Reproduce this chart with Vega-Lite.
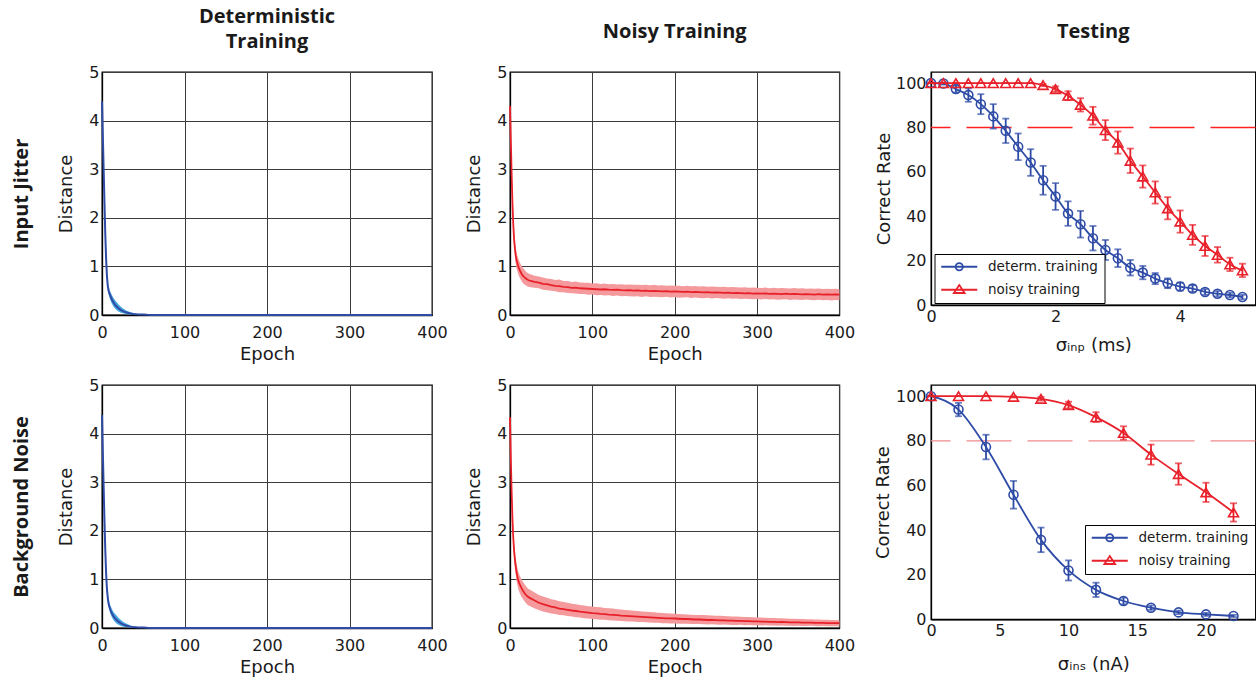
{
"$schema": "https://vega.github.io/schema/vega-lite/v6.json",
"autosize": {"type": "pad"},
"padding": {"left": 10, "top": 6, "right": 0, "bottom": 0},
"background": "white",
"config": {
  "view": {"stroke": "#000", "strokeWidth": 1.3},
  "axis": {"labelFont": "DejaVu Sans", "labelFontSize": 16, "labelColor": "#1a1a1a", "titleFont": "DejaVu Sans", "titleFontSize": 18, "titleFontWeight": "normal", "titleColor": "#1a1a1a", "domainColor": "#000", "domainWidth": 1.3, "ticks": false, "labelFlush": false, "labelOverlap": false, "gridColor": "#3c3c3c", "gridOpacity": 1, "gridWidth": 1, "grid": false},
  "axisX": {"labelPadding": 9, "titlePadding": 5},
  "axisY": {"labelPadding": 3, "titlePadding": 13},
  "title": {"font": "Open Sans", "fontSize": 20, "fontWeight": "bold", "color": "#1a1a1a", "anchor": "middle", "frame": "group"}
},
"datasets": {
"train": [
{"p":"JD","e":0,"d":4.4,"lo":4.4,"hi":4.4},{"p":"JD","e":1,"d":3.7,"lo":3.68,"hi":3.72},{"p":"JD","e":2,"d":3.0,"lo":2.97,"hi":3.03},{"p":"JD","e":3,"d":2.3,"lo":2.26,"hi":2.34},{"p":"JD","e":4,"d":1.65,"lo":1.6,"hi":1.7},{"p":"JD","e":5,"d":1.15,"lo":1.1,"hi":1.2},{"p":"JD","e":6,"d":0.8,"lo":0.74,"hi":0.86},{"p":"JD","e":7,"d":0.6,"lo":0.53,"hi":0.67},{"p":"JD","e":8,"d":0.5,"lo":0.42,"hi":0.58},{"p":"JD","e":10,"d":0.4,"lo":0.31,"hi":0.48},{"p":"JD","e":12,"d":0.32,"lo":0.23,"hi":0.41},{"p":"JD","e":14,"d":0.26,"lo":0.17,"hi":0.35},{"p":"JD","e":16,"d":0.21,"lo":0.13,"hi":0.3},{"p":"JD","e":18,"d":0.17,"lo":0.1,"hi":0.26},{"p":"JD","e":20,"d":0.14,"lo":0.07,"hi":0.22},{"p":"JD","e":23,"d":0.1,"lo":0.045,"hi":0.17},{"p":"JD","e":26,"d":0.075,"lo":0.03,"hi":0.13},{"p":"JD","e":30,"d":0.05,"lo":0.015,"hi":0.09},{"p":"JD","e":34,"d":0.03,"lo":0.008,"hi":0.06},{"p":"JD","e":38,"d":0.02,"lo":0.004,"hi":0.04},{"p":"JD","e":42,"d":0.015,"lo":0.002,"hi":0.028},{"p":"JD","e":46,"d":0.012,"lo":0.001,"hi":0.02},{"p":"JD","e":50,"d":0.01,"lo":0,"hi":0.015},{"p":"JD","e":55,"d":0.004,"lo":0,"hi":0.006},{"p":"JD","e":60,"d":0.002,"lo":0,"hi":0.003},{"p":"JD","e":100,"d":0.001,"lo":0,"hi":0.001},{"p":"JD","e":200,"d":0.001,"lo":0,"hi":0.001},{"p":"JD","e":300,"d":0.001,"lo":0,"hi":0.001},{"p":"JD","e":400,"d":0.001,"lo":0,"hi":0.001},
{"p":"BD","e":0,"d":4.38,"lo":4.38,"hi":4.38},{"p":"BD","e":1,"d":3.62,"lo":3.6,"hi":3.64},{"p":"BD","e":2,"d":2.9,"lo":2.87,"hi":2.93},{"p":"BD","e":3,"d":2.2,"lo":2.16,"hi":2.24},{"p":"BD","e":4,"d":1.6,"lo":1.55,"hi":1.65},{"p":"BD","e":5,"d":1.12,"lo":1.07,"hi":1.18},{"p":"BD","e":6,"d":0.8,"lo":0.74,"hi":0.86},{"p":"BD","e":7,"d":0.62,"lo":0.55,"hi":0.69},{"p":"BD","e":8,"d":0.5,"lo":0.42,"hi":0.58},{"p":"BD","e":10,"d":0.38,"lo":0.3,"hi":0.47},{"p":"BD","e":12,"d":0.3,"lo":0.22,"hi":0.39},{"p":"BD","e":14,"d":0.24,"lo":0.16,"hi":0.33},{"p":"BD","e":16,"d":0.2,"lo":0.12,"hi":0.29},{"p":"BD","e":18,"d":0.16,"lo":0.09,"hi":0.25},{"p":"BD","e":20,"d":0.13,"lo":0.065,"hi":0.21},{"p":"BD","e":23,"d":0.095,"lo":0.04,"hi":0.165},{"p":"BD","e":26,"d":0.07,"lo":0.028,"hi":0.125},{"p":"BD","e":30,"d":0.045,"lo":0.014,"hi":0.085},{"p":"BD","e":34,"d":0.028,"lo":0.007,"hi":0.055},{"p":"BD","e":38,"d":0.018,"lo":0.004,"hi":0.038},{"p":"BD","e":42,"d":0.013,"lo":0.002,"hi":0.026},{"p":"BD","e":46,"d":0.01,"lo":0.001,"hi":0.018},{"p":"BD","e":50,"d":0.008,"lo":0,"hi":0.013},{"p":"BD","e":55,"d":0.004,"lo":0,"hi":0.006},{"p":"BD","e":60,"d":0.002,"lo":0,"hi":0.003},{"p":"BD","e":100,"d":0.001,"lo":0,"hi":0.001},{"p":"BD","e":200,"d":0.001,"lo":0,"hi":0.001},{"p":"BD","e":300,"d":0.001,"lo":0,"hi":0.001},{"p":"BD","e":400,"d":0.001,"lo":0,"hi":0.001},
{"p":"JN","e":0,"d":4.3,"lo":4.3,"hi":4.3},{"p":"JN","e":1,"d":3.6,"lo":3.55,"hi":3.65},{"p":"JN","e":2,"d":2.9,"lo":2.82,"hi":2.98},{"p":"JN","e":3,"d":2.3,"lo":2.2,"hi":2.4},{"p":"JN","e":4,"d":1.85,"lo":1.72,"hi":1.98},{"p":"JN","e":5,"d":1.55,"lo":1.4,"hi":1.7},{"p":"JN","e":6,"d":1.36,"lo":1.2,"hi":1.52},{"p":"JN","e":7,"d":1.22,"lo":1.05,"hi":1.38},{"p":"JN","e":8,"d":1.12,"lo":0.95,"hi":1.28},{"p":"JN","e":10,"d":1.0,"lo":0.84,"hi":1.16},{"p":"JN","e":12,"d":0.92,"lo":0.76,"hi":1.08},{"p":"JN","e":14,"d":0.85,"lo":0.7,"hi":1.01},{"p":"JN","e":16,"d":0.8,"lo":0.65,"hi":0.96},{"p":"JN","e":18,"d":0.77,"lo":0.62,"hi":0.92},{"p":"JN","e":20,"d":0.74,"lo":0.6,"hi":0.88},{"p":"JN","e":22,"d":0.72,"lo":0.58,"hi":0.86},{"p":"JN","e":25,"d":0.7,"lo":0.57,"hi":0.84},
{"p":"JN","e":30,"d":0.68,"lo":0.56,"hi":0.81},{"p":"JN","e":35,"d":0.665,"lo":0.55,"hi":0.79},{"p":"JN","e":40,"d":0.64,"lo":0.52,"hi":0.77},{"p":"JN","e":45,"d":0.635,"lo":0.51,"hi":0.75},{"p":"JN","e":50,"d":0.615,"lo":0.5,"hi":0.74},{"p":"JN","e":55,"d":0.6,"lo":0.49,"hi":0.72},{"p":"JN","e":60,"d":0.595,"lo":0.47,"hi":0.73},{"p":"JN","e":65,"d":0.58,"lo":0.47,"hi":0.7},{"p":"JN","e":70,"d":0.575,"lo":0.455,"hi":0.7},{"p":"JN","e":75,"d":0.56,"lo":0.45,"hi":0.68},{"p":"JN","e":80,"d":0.565,"lo":0.44,"hi":0.69},{"p":"JN","e":85,"d":0.55,"lo":0.43,"hi":0.67},{"p":"JN","e":90,"d":0.545,"lo":0.43,"hi":0.665},{"p":"JN","e":95,"d":0.54,"lo":0.415,"hi":0.665},{"p":"JN","e":100,"d":0.535,"lo":0.42,"hi":0.65},{"p":"JN","e":105,"d":0.53,"lo":0.405,"hi":0.655},{"p":"JN","e":110,"d":0.525,"lo":0.41,"hi":0.64},{"p":"JN","e":115,"d":0.53,"lo":0.4,"hi":0.65},{"p":"JN","e":120,"d":0.52,"lo":0.405,"hi":0.635},{"p":"JN","e":125,"d":0.515,"lo":0.39,"hi":0.64},{"p":"JN","e":130,"d":0.52,"lo":0.4,"hi":0.63},{"p":"JN","e":135,"d":0.51,"lo":0.385,"hi":0.635},{"p":"JN","e":140,"d":0.505,"lo":0.39,"hi":0.62},{"p":"JN","e":145,"d":0.51,"lo":0.385,"hi":0.63},{"p":"JN","e":150,"d":0.5,"lo":0.38,"hi":0.62},{"p":"JN","e":155,"d":0.505,"lo":0.385,"hi":0.625},{"p":"JN","e":160,"d":0.495,"lo":0.37,"hi":0.615},{"p":"JN","e":165,"d":0.5,"lo":0.385,"hi":0.62},{"p":"JN","e":170,"d":0.49,"lo":0.37,"hi":0.61},{"p":"JN","e":175,"d":0.495,"lo":0.375,"hi":0.62},{"p":"JN","e":180,"d":0.49,"lo":0.37,"hi":0.605},{"p":"JN","e":185,"d":0.485,"lo":0.365,"hi":0.61},{"p":"JN","e":190,"d":0.49,"lo":0.375,"hi":0.6},{"p":"JN","e":195,"d":0.48,"lo":0.36,"hi":0.605},{"p":"JN","e":200,"d":0.485,"lo":0.37,"hi":0.6},{"p":"JN","e":205,"d":0.48,"lo":0.355,"hi":0.6},{"p":"JN","e":210,"d":0.475,"lo":0.36,"hi":0.59},{"p":"JN","e":215,"d":0.48,"lo":0.365,"hi":0.6},{"p":"JN","e":220,"d":0.47,"lo":0.35,"hi":0.59},{"p":"JN","e":225,"d":0.475,"lo":0.36,"hi":0.595},{"p":"JN","e":230,"d":0.47,"lo":0.35,"hi":0.585},{"p":"JN","e":235,"d":0.465,"lo":0.345,"hi":0.59},{"p":"JN","e":240,"d":0.47,"lo":0.355,"hi":0.58},{"p":"JN","e":245,"d":0.46,"lo":0.34,"hi":0.585},{"p":"JN","e":250,"d":0.465,"lo":0.35,"hi":0.58},{"p":"JN","e":255,"d":0.46,"lo":0.345,"hi":0.575},{"p":"JN","e":260,"d":0.455,"lo":0.335,"hi":0.58},{"p":"JN","e":265,"d":0.46,"lo":0.345,"hi":0.57},{"p":"JN","e":270,"d":0.45,"lo":0.335,"hi":0.575},{"p":"JN","e":275,"d":0.455,"lo":0.34,"hi":0.57},{"p":"JN","e":280,"d":0.45,"lo":0.33,"hi":0.565},{"p":"JN","e":285,"d":0.445,"lo":0.335,"hi":0.57},{"p":"JN","e":290,"d":0.45,"lo":0.33,"hi":0.56},{"p":"JN","e":295,"d":0.44,"lo":0.325,"hi":0.565},{"p":"JN","e":300,"d":0.445,"lo":0.33,"hi":0.56},{"p":"JN","e":305,"d":0.44,"lo":0.32,"hi":0.555},{"p":"JN","e":310,"d":0.445,"lo":0.33,"hi":0.565},{"p":"JN","e":315,"d":0.435,"lo":0.32,"hi":0.55},{"p":"JN","e":320,"d":0.44,"lo":0.325,"hi":0.56},{"p":"JN","e":325,"d":0.435,"lo":0.315,"hi":0.55},{"p":"JN","e":330,"d":0.43,"lo":0.32,"hi":0.555},{"p":"JN","e":335,"d":0.44,"lo":0.325,"hi":0.55},{"p":"JN","e":340,"d":0.43,"lo":0.31,"hi":0.545},{"p":"JN","e":345,"d":0.435,"lo":0.32,"hi":0.555},{"p":"JN","e":350,"d":0.43,"lo":0.315,"hi":0.545},{"p":"JN","e":355,"d":0.425,"lo":0.31,"hi":0.55},{"p":"JN","e":360,"d":0.43,"lo":0.32,"hi":0.54},{"p":"JN","e":365,"d":0.425,"lo":0.31,"hi":0.545},{"p":"JN","e":370,"d":0.42,"lo":0.305,"hi":0.54},{"p":"JN","e":375,"d":0.43,"lo":0.315,"hi":0.545},{"p":"JN","e":380,"d":0.42,"lo":0.305,"hi":0.535},{"p":"JN","e":385,"d":0.425,"lo":0.31,"hi":0.54},{"p":"JN","e":390,"d":0.42,"lo":0.3,"hi":0.535},{"p":"JN","e":395,"d":0.425,"lo":0.31,"hi":0.54},{"p":"JN","e":400,"d":0.42,"lo":0.305,"hi":0.53},
{"p":"BN","e":0,"d":4.34,"lo":4.34,"hi":4.34},{"p":"BN","e":1,"d":3.5,"lo":3.44,"hi":3.56},{"p":"BN","e":2,"d":2.8,"lo":2.7,"hi":2.9},{"p":"BN","e":3,"d":2.24,"lo":2.12,"hi":2.36},{"p":"BN","e":4,"d":1.85,"lo":1.7,"hi":2.0},{"p":"BN","e":5,"d":1.58,"lo":1.42,"hi":1.75},{"p":"BN","e":6,"d":1.4,"lo":1.22,"hi":1.58},{"p":"BN","e":7,"d":1.26,"lo":1.08,"hi":1.44},{"p":"BN","e":8,"d":1.14,"lo":0.96,"hi":1.32},{"p":"BN","e":10,"d":0.98,"lo":0.8,"hi":1.16},{"p":"BN","e":12,"d":0.89,"lo":0.71,"hi":1.07},{"p":"BN","e":14,"d":0.82,"lo":0.64,"hi":1.0},{"p":"BN","e":16,"d":0.76,"lo":0.59,"hi":0.94},{"p":"BN","e":18,"d":0.71,"lo":0.54,"hi":0.89},{"p":"BN","e":20,"d":0.67,"lo":0.5,"hi":0.85},{"p":"BN","e":22,"d":0.64,"lo":0.47,"hi":0.81},{"p":"BN","e":25,"d":0.61,"lo":0.44,"hi":0.78},
{"p":"BN","e":30,"d":0.565,"lo":0.4,"hi":0.73},{"p":"BN","e":35,"d":0.52,"lo":0.37,"hi":0.68},{"p":"BN","e":40,"d":0.49,"lo":0.34,"hi":0.65},{"p":"BN","e":45,"d":0.465,"lo":0.32,"hi":0.62},{"p":"BN","e":50,"d":0.44,"lo":0.3,"hi":0.59},{"p":"BN","e":55,"d":0.425,"lo":0.29,"hi":0.575},{"p":"BN","e":60,"d":0.4,"lo":0.27,"hi":0.55},{"p":"BN","e":65,"d":0.39,"lo":0.26,"hi":0.535},{"p":"BN","e":70,"d":0.375,"lo":0.245,"hi":0.52},{"p":"BN","e":75,"d":0.36,"lo":0.235,"hi":0.5},{"p":"BN","e":80,"d":0.35,"lo":0.22,"hi":0.49},{"p":"BN","e":85,"d":0.335,"lo":0.215,"hi":0.475},{"p":"BN","e":90,"d":0.325,"lo":0.2,"hi":0.465},{"p":"BN","e":95,"d":0.315,"lo":0.195,"hi":0.45},{"p":"BN","e":100,"d":0.305,"lo":0.185,"hi":0.44},{"p":"BN","e":105,"d":0.3,"lo":0.18,"hi":0.43},{"p":"BN","e":110,"d":0.29,"lo":0.17,"hi":0.425},{"p":"BN","e":115,"d":0.285,"lo":0.17,"hi":0.41},{"p":"BN","e":120,"d":0.275,"lo":0.16,"hi":0.405},{"p":"BN","e":125,"d":0.27,"lo":0.155,"hi":0.4},{"p":"BN","e":130,"d":0.265,"lo":0.15,"hi":0.385},{"p":"BN","e":135,"d":0.255,"lo":0.145,"hi":0.38},{"p":"BN","e":140,"d":0.25,"lo":0.14,"hi":0.37},{"p":"BN","e":145,"d":0.245,"lo":0.135,"hi":0.365},{"p":"BN","e":150,"d":0.24,"lo":0.135,"hi":0.355},{"p":"BN","e":155,"d":0.235,"lo":0.125,"hi":0.35},{"p":"BN","e":160,"d":0.23,"lo":0.125,"hi":0.34},{"p":"BN","e":165,"d":0.225,"lo":0.12,"hi":0.335},{"p":"BN","e":170,"d":0.22,"lo":0.115,"hi":0.33},{"p":"BN","e":175,"d":0.215,"lo":0.11,"hi":0.325},{"p":"BN","e":180,"d":0.21,"lo":0.11,"hi":0.315},{"p":"BN","e":185,"d":0.205,"lo":0.1,"hi":0.31},{"p":"BN","e":190,"d":0.2,"lo":0.1,"hi":0.305},{"p":"BN","e":195,"d":0.2,"lo":0.095,"hi":0.3},{"p":"BN","e":200,"d":0.195,"lo":0.095,"hi":0.295},{"p":"BN","e":205,"d":0.19,"lo":0.09,"hi":0.29},{"p":"BN","e":210,"d":0.185,"lo":0.085,"hi":0.285},{"p":"BN","e":215,"d":0.185,"lo":0.09,"hi":0.28},{"p":"BN","e":220,"d":0.18,"lo":0.08,"hi":0.275},{"p":"BN","e":225,"d":0.175,"lo":0.08,"hi":0.27},{"p":"BN","e":230,"d":0.175,"lo":0.08,"hi":0.265},{"p":"BN","e":235,"d":0.17,"lo":0.075,"hi":0.265},{"p":"BN","e":240,"d":0.165,"lo":0.07,"hi":0.26},{"p":"BN","e":245,"d":0.165,"lo":0.075,"hi":0.255},{"p":"BN","e":250,"d":0.16,"lo":0.07,"hi":0.25},{"p":"BN","e":255,"d":0.155,"lo":0.065,"hi":0.25},{"p":"BN","e":260,"d":0.155,"lo":0.07,"hi":0.245},{"p":"BN","e":265,"d":0.15,"lo":0.065,"hi":0.24},{"p":"BN","e":270,"d":0.15,"lo":0.06,"hi":0.235},{"p":"BN","e":275,"d":0.145,"lo":0.06,"hi":0.235},{"p":"BN","e":280,"d":0.145,"lo":0.065,"hi":0.23},{"p":"BN","e":285,"d":0.14,"lo":0.055,"hi":0.225},{"p":"BN","e":290,"d":0.14,"lo":0.06,"hi":0.225},{"p":"BN","e":295,"d":0.135,"lo":0.055,"hi":0.22},{"p":"BN","e":300,"d":0.135,"lo":0.055,"hi":0.215},{"p":"BN","e":305,"d":0.13,"lo":0.05,"hi":0.215},{"p":"BN","e":310,"d":0.13,"lo":0.055,"hi":0.21},{"p":"BN","e":315,"d":0.125,"lo":0.05,"hi":0.205},{"p":"BN","e":320,"d":0.125,"lo":0.05,"hi":0.205},{"p":"BN","e":325,"d":0.12,"lo":0.045,"hi":0.2},{"p":"BN","e":330,"d":0.125,"lo":0.05,"hi":0.2},{"p":"BN","e":335,"d":0.12,"lo":0.045,"hi":0.195},{"p":"BN","e":340,"d":0.115,"lo":0.045,"hi":0.19},{"p":"BN","e":345,"d":0.115,"lo":0.04,"hi":0.19},{"p":"BN","e":350,"d":0.115,"lo":0.045,"hi":0.185},{"p":"BN","e":355,"d":0.11,"lo":0.04,"hi":0.185},{"p":"BN","e":360,"d":0.11,"lo":0.04,"hi":0.18},{"p":"BN","e":365,"d":0.11,"lo":0.045,"hi":0.18},{"p":"BN","e":370,"d":0.105,"lo":0.04,"hi":0.175},{"p":"BN","e":375,"d":0.105,"lo":0.035,"hi":0.175},{"p":"BN","e":380,"d":0.105,"lo":0.04,"hi":0.17},{"p":"BN","e":385,"d":0.1,"lo":0.035,"hi":0.17},{"p":"BN","e":390,"d":0.1,"lo":0.035,"hi":0.165},{"p":"BN","e":395,"d":0.1,"lo":0.035,"hi":0.165},{"p":"BN","e":400,"d":0.1,"lo":0.035,"hi":0.16}
],
"test": [
{"p":"J","series":"determ. training","s":0,"rate":100,"err":0},{"p":"J","series":"determ. training","s":0.2,"rate":99.8,"err":0.5},{"p":"J","series":"determ. training","s":0.4,"rate":97.3,"err":1.5},{"p":"J","series":"determ. training","s":0.6,"rate":94.6,"err":3},{"p":"J","series":"determ. training","s":0.8,"rate":90.5,"err":4.5},{"p":"J","series":"determ. training","s":1.0,"rate":85,"err":5.5},{"p":"J","series":"determ. training","s":1.2,"rate":78.5,"err":5.5},{"p":"J","series":"determ. training","s":1.4,"rate":71.3,"err":6},{"p":"J","series":"determ. training","s":1.6,"rate":64.2,"err":6},{"p":"J","series":"determ. training","s":1.8,"rate":56.2,"err":6.5},{"p":"J","series":"determ. training","s":2.0,"rate":48.9,"err":6},{"p":"J","series":"determ. training","s":2.2,"rate":41.2,"err":5.5},{"p":"J","series":"determ. training","s":2.4,"rate":36.4,"err":6},{"p":"J","series":"determ. training","s":2.6,"rate":30.1,"err":5.5},{"p":"J","series":"determ. training","s":2.8,"rate":24.8,"err":4.5},{"p":"J","series":"determ. training","s":3.0,"rate":21.1,"err":4},{"p":"J","series":"determ. training","s":3.2,"rate":16.8,"err":3.5},{"p":"J","series":"determ. training","s":3.4,"rate":14.6,"err":3},{"p":"J","series":"determ. training","s":3.6,"rate":11.9,"err":2.5},{"p":"J","series":"determ. training","s":3.8,"rate":9.8,"err":2.2},{"p":"J","series":"determ. training","s":4.0,"rate":8.3,"err":1.8},{"p":"J","series":"determ. training","s":4.2,"rate":7.4,"err":1.5},{"p":"J","series":"determ. training","s":4.4,"rate":5.9,"err":1.3},{"p":"J","series":"determ. training","s":4.6,"rate":5.1,"err":1.2},{"p":"J","series":"determ. training","s":4.8,"rate":4.5,"err":1},{"p":"J","series":"determ. training","s":5.0,"rate":3.6,"err":1},
{"p":"J","series":"noisy training","s":0,"rate":100,"err":0},{"p":"J","series":"noisy training","s":0.2,"rate":100,"err":0},{"p":"J","series":"noisy training","s":0.4,"rate":100,"err":0},{"p":"J","series":"noisy training","s":0.6,"rate":100,"err":0},{"p":"J","series":"noisy training","s":0.8,"rate":100,"err":0},{"p":"J","series":"noisy training","s":1.0,"rate":100,"err":0},{"p":"J","series":"noisy training","s":1.2,"rate":100,"err":0},{"p":"J","series":"noisy training","s":1.4,"rate":100,"err":0},{"p":"J","series":"noisy training","s":1.6,"rate":100,"err":0},{"p":"J","series":"noisy training","s":1.8,"rate":99.1,"err":0.5},{"p":"J","series":"noisy training","s":2.0,"rate":97.3,"err":1.2},{"p":"J","series":"noisy training","s":2.2,"rate":94.3,"err":2},{"p":"J","series":"noisy training","s":2.4,"rate":90.2,"err":3},{"p":"J","series":"noisy training","s":2.6,"rate":85.3,"err":4},{"p":"J","series":"noisy training","s":2.8,"rate":78.8,"err":4.5},{"p":"J","series":"noisy training","s":3.0,"rate":73.2,"err":5},{"p":"J","series":"noisy training","s":3.2,"rate":65,"err":5.5},{"p":"J","series":"noisy training","s":3.4,"rate":57.9,"err":5},{"p":"J","series":"noisy training","s":3.6,"rate":50.7,"err":5},{"p":"J","series":"noisy training","s":3.8,"rate":43.6,"err":5},{"p":"J","series":"noisy training","s":4.0,"rate":37.6,"err":5},{"p":"J","series":"noisy training","s":4.2,"rate":31.6,"err":4.5},{"p":"J","series":"noisy training","s":4.4,"rate":26.6,"err":4.5},{"p":"J","series":"noisy training","s":4.6,"rate":22.6,"err":3.5},{"p":"J","series":"noisy training","s":4.8,"rate":18.3,"err":3},{"p":"J","series":"noisy training","s":5.0,"rate":15.6,"err":3},
{"p":"B","series":"determ. training","s":0,"rate":100,"err":0},{"p":"B","series":"determ. training","s":2,"rate":94,"err":3},{"p":"B","series":"determ. training","s":4,"rate":77.2,"err":5.5},{"p":"B","series":"determ. training","s":6,"rate":55.8,"err":6.2},{"p":"B","series":"determ. training","s":8,"rate":35.6,"err":5.5},{"p":"B","series":"determ. training","s":10,"rate":21.9,"err":4.5},{"p":"B","series":"determ. training","s":12,"rate":13.2,"err":3.2},{"p":"B","series":"determ. training","s":14,"rate":8.2,"err":1.5},{"p":"B","series":"determ. training","s":16,"rate":5.2,"err":1},{"p":"B","series":"determ. training","s":18,"rate":3.1,"err":0.8},{"p":"B","series":"determ. training","s":20,"rate":2.2,"err":0.7},{"p":"B","series":"determ. training","s":22,"rate":1.5,"err":0.5},
{"p":"B","series":"noisy training","s":0,"rate":100,"err":0},{"p":"B","series":"noisy training","s":2,"rate":100,"err":0},{"p":"B","series":"noisy training","s":4,"rate":100,"err":0},{"p":"B","series":"noisy training","s":6,"rate":99.7,"err":0.3},{"p":"B","series":"noisy training","s":8,"rate":98.8,"err":0.8},{"p":"B","series":"noisy training","s":10,"rate":96,"err":1.5},{"p":"B","series":"noisy training","s":12,"rate":90.6,"err":2.2},{"p":"B","series":"noisy training","s":14,"rate":83.5,"err":3},{"p":"B","series":"noisy training","s":16,"rate":73.8,"err":4.5},{"p":"B","series":"noisy training","s":18,"rate":65.1,"err":4.8},{"p":"B","series":"noisy training","s":20,"rate":56.9,"err":4.3},{"p":"B","series":"noisy training","s":22,"rate":47.9,"err":4.1}
],
"thresholds": [{"panel": "J", "threshold": 80}, {"panel": "B", "threshold": 80}]
},
"columns": 3,
"align": "each",
"spacing": {"row": 12, "column": 17},
"resolve": {"scale": {"color": "independent", "shape": "independent"}, "legend": {"color": "independent", "shape": "independent"}},
"concat": [
{
 "width": 330, "height": 243,
 "title": {"text": ["Deterministic", "Training"], "offset": 12, "lineHeight": 25},
 "layer": [
  {"data": {"name": "train"}, "transform": [{"filter": "datum.p == 'JD'"}],
   "layer": [
    {"mark": {"type": "area", "color": "#4aa8e0", "opacity": 1},
     "encoding": {
      "x": {"field": "e", "type": "quantitative", "title": "Epoch", "scale": {"domain": [0, 400], "nice": false}, "axis": {"values": [0, 100, 200, 300, 400], "grid": true}},
      "y": {"field": "lo", "type": "quantitative", "title": "Distance", "scale": {"domain": [0, 5], "nice": false}, "axis": {"values": [0, 1, 2, 3, 4, 5], "grid": true}},
      "y2": {"field": "hi"}}},
    {"mark": {"type": "line", "color": "#2e4ba6", "strokeWidth": 2},
     "encoding": {
      "x": {"field": "e", "type": "quantitative", "title": "Epoch"},
      "y": {"field": "d", "type": "quantitative", "title": "Distance"}}}
   ]},
  {"data": {"values": [{"v": 0}]}, "mark": {"type": "point", "opacity": 0},
   "encoding": {"y": {"field": "v", "type": "quantitative", "scale": {"domain": [0, 1]}, "axis": {"orient": "left", "title": "Input Jitter", "labels": false, "ticks": false, "domain": false, "grid": false, "titleFont": "Open Sans", "titleFontSize": 20, "titleFontWeight": "bold", "titleColor": "#1a1a1a", "titlePadding": 71}}}}
 ],
 "resolve": {"scale": {"y": "independent"}, "axis": {"y": "independent"}}
},
{
 "width": 329.4, "height": 243,
 "title": {"text": "Noisy Training", "offset": 22},
 "data": {"name": "train"},
 "transform": [{"filter": "datum.p == 'JN'"}],
 "layer": [
  {"mark": {"type": "area", "color": "#f59a9c", "opacity": 1},
   "encoding": {
    "x": {"field": "e", "type": "quantitative", "title": "Epoch", "scale": {"domain": [0, 400], "nice": false}, "axis": {"values": [0, 100, 200, 300, 400], "grid": true}},
    "y": {"field": "lo", "type": "quantitative", "title": "Distance", "scale": {"domain": [0, 5], "nice": false}, "axis": {"values": [0, 1, 2, 3, 4, 5], "grid": true}},
    "y2": {"field": "hi"}}},
  {"mark": {"type": "line", "color": "#e8202a", "strokeWidth": 1.8},
   "encoding": {
    "x": {"field": "e", "type": "quantitative", "title": "Epoch"},
    "y": {"field": "d", "type": "quantitative", "title": "Distance"}}}
 ]
},
{
 "width": 324.5, "height": 233,
 "title": {"text": "Testing", "offset": 30},
 "layer": [
  {"data": {"name": "thresholds"}, "transform": [{"filter": "datum.panel == 'J'"}],
   "mark": {"type": "rule", "strokeWidth": 1.5, "strokeDash": [45, 16], "opacity": 1, "stroke": "#ff2020"},
   "encoding": {"y": {"field": "threshold", "type": "quantitative", "title": "Correct Rate", "scale": {"domain": [0, 105], "nice": false}, "axis": {"values": [0, 20, 40, 60, 80, 100], "labelPadding": 5, "titlePadding": 1.5}}}},
  {"data": {"name": "test"}, "transform": [{"filter": "datum.p == 'J' && datum.series == 'determ. training'"}],
   "mark": {"type": "errorbar", "ticks": {"size": 7}, "thickness": 1.8, "color": "#2e4ba6"},
   "encoding": {
    "x": {"field": "s", "type": "quantitative", "title": "σᵢₙₚ (ms)", "scale": {"domain": [0, 5.21], "nice": false}, "axis": {"values": [0, 2, 4], "format": "d", "labelPadding": 3, "titlePadding": 12}},
    "y": {"field": "rate", "type": "quantitative", "title": "Correct Rate"},
    "yError": {"field": "err"}}},
  {"data": {"name": "test"}, "transform": [{"filter": "datum.p == 'J' && datum.series == 'determ. training'"}],
   "mark": {"type": "line", "color": "#2e4ba6", "strokeWidth": 1.8, "interpolate": "monotone"},
   "encoding": {"x": {"field": "s", "type": "quantitative", "title": "σᵢₙₚ (ms)"}, "y": {"field": "rate", "type": "quantitative", "title": "Correct Rate"}}},
  {"data": {"name": "test"}, "transform": [{"filter": "datum.p == 'J' && datum.series == 'determ. training'"}],
   "mark": {"type": "point", "shape": "circle", "filled": false, "color": "#2e4ba6", "size": 80, "strokeWidth": 1.6, "opacity": 1},
   "encoding": {"x": {"field": "s", "type": "quantitative", "title": "σᵢₙₚ (ms)"}, "y": {"field": "rate", "type": "quantitative", "title": "Correct Rate"}}},
  {"data": {"name": "test"}, "transform": [{"filter": "datum.p == 'J' && datum.series == 'noisy training'"}],
   "mark": {"type": "errorbar", "ticks": {"size": 7}, "thickness": 1.8, "color": "#e8212b"},
   "encoding": {
    "x": {"field": "s", "type": "quantitative", "title": "σᵢₙₚ (ms)"},
    "y": {"field": "rate", "type": "quantitative", "title": "Correct Rate"},
    "yError": {"field": "err"}}},
  {"data": {"name": "test"}, "transform": [{"filter": "datum.p == 'J' && datum.series == 'noisy training'"}],
   "mark": {"type": "line", "color": "#e8212b", "strokeWidth": 1.8, "interpolate": "monotone"},
   "encoding": {"x": {"field": "s", "type": "quantitative", "title": "σᵢₙₚ (ms)"}, "y": {"field": "rate", "type": "quantitative", "title": "Correct Rate"}}},
  {"data": {"name": "test"}, "transform": [{"filter": "datum.p == 'J' && datum.series == 'noisy training'"}],
   "mark": {"type": "point", "shape": "triangle-up", "filled": false, "color": "#e8212b", "size": 100, "strokeWidth": 1.6, "opacity": 1},
   "encoding": {"x": {"field": "s", "type": "quantitative", "title": "σᵢₙₚ (ms)"}, "y": {"field": "rate", "type": "quantitative", "title": "Correct Rate"}}},
  {"data": {"name": "test"}, "transform": [{"filter": "datum.p == 'none'"}],
   "mark": {"type": "point", "filled": false, "strokeWidth": 1.6, "opacity": 1},
   "encoding": {
    "x": {"field": "s", "type": "quantitative", "title": "σᵢₙₚ (ms)"},
    "y": {"field": "rate", "type": "quantitative", "title": "Correct Rate"},
    "color": {"field": "series", "type": "nominal", "scale": {"domain": ["determ. training", "noisy training"], "range": ["#2e4ba6", "#e8212b"]},
      "legend": {"title": null, "orient": "none", "legendX": 3.5, "legendY": 182, "strokeColor": "#000", "fillColor": "white", "padding": 6, "rowPadding": 7, "symbolSize": 100, "symbolStrokeWidth": 1.8, "labelFont": "DejaVu Sans", "labelFontSize": 13.5, "labelColor": "#1a1a1a", "labelOffset": 34}},
    "shape": {"field": "series", "type": "nominal", "scale": {"domain": ["determ. training", "noisy training"], "range": ["M-1.2,0H6M3.12,0A0.72,0.72,0,1,1,1.68,0A0.72,0.72,0,1,1,3.12,0", "M-1.2,0H6M2.4,-0.95L3.47,0.65L1.33,0.65Z"]},
      "legend": {"title": null, "orient": "none", "legendX": 3.5, "legendY": 182, "strokeColor": "#000", "fillColor": "white", "padding": 6, "rowPadding": 7, "symbolSize": 100, "symbolStrokeWidth": 1.8, "labelFont": "DejaVu Sans", "labelFontSize": 13.5, "labelColor": "#1a1a1a", "labelOffset": 34}}}}
 ]
},
{
 "width": 330, "height": 243,
 "layer": [
  {"data": {"name": "train"}, "transform": [{"filter": "datum.p == 'BD'"}],
   "layer": [
    {"mark": {"type": "area", "color": "#4aa8e0", "opacity": 1},
     "encoding": {
      "x": {"field": "e", "type": "quantitative", "title": "Epoch", "scale": {"domain": [0, 400], "nice": false}, "axis": {"values": [0, 100, 200, 300, 400], "grid": true}},
      "y": {"field": "lo", "type": "quantitative", "title": "Distance", "scale": {"domain": [0, 5], "nice": false}, "axis": {"values": [0, 1, 2, 3, 4, 5], "grid": true}},
      "y2": {"field": "hi"}}},
    {"mark": {"type": "line", "color": "#2e4ba6", "strokeWidth": 2},
     "encoding": {
      "x": {"field": "e", "type": "quantitative", "title": "Epoch"},
      "y": {"field": "d", "type": "quantitative", "title": "Distance"}}}
   ]},
  {"data": {"values": [{"v": 0}]}, "mark": {"type": "point", "opacity": 0},
   "encoding": {"y": {"field": "v", "type": "quantitative", "scale": {"domain": [0, 1]}, "axis": {"orient": "left", "title": "Background Noise", "labels": false, "ticks": false, "domain": false, "grid": false, "titleFont": "Open Sans", "titleFontSize": 20, "titleFontWeight": "bold", "titleColor": "#1a1a1a", "titlePadding": 71}}}}
 ],
 "resolve": {"scale": {"y": "independent"}, "axis": {"y": "independent"}}
},
{
 "width": 329.4, "height": 243,
 "data": {"name": "train"},
 "transform": [{"filter": "datum.p == 'BN'"}],
 "layer": [
  {"mark": {"type": "area", "color": "#f59a9c", "opacity": 1},
   "encoding": {
    "x": {"field": "e", "type": "quantitative", "title": "Epoch", "scale": {"domain": [0, 400], "nice": false}, "axis": {"values": [0, 100, 200, 300, 400], "grid": true}},
    "y": {"field": "lo", "type": "quantitative", "title": "Distance", "scale": {"domain": [0, 5], "nice": false}, "axis": {"values": [0, 1, 2, 3, 4, 5], "grid": true}},
    "y2": {"field": "hi"}}},
  {"mark": {"type": "line", "color": "#e8202a", "strokeWidth": 1.8},
   "encoding": {
    "x": {"field": "e", "type": "quantitative", "title": "Epoch"},
    "y": {"field": "d", "type": "quantitative", "title": "Distance"}}}
 ]
},
{
 "width": 324.5, "height": 234.3,
 "layer": [
  {"data": {"name": "thresholds"}, "transform": [{"filter": "datum.panel == 'B'"}],
   "mark": {"type": "rule", "strokeWidth": 1.2, "strokeDash": [45, 16], "opacity": 1, "stroke": "#f08a8c"},
   "encoding": {"y": {"field": "threshold", "type": "quantitative", "title": "Correct Rate", "scale": {"domain": [0, 105], "nice": false}, "axis": {"values": [0, 20, 40, 60, 80, 100], "labelPadding": 5, "titlePadding": 3.4}}}},
  {"data": {"name": "test"}, "transform": [{"filter": "datum.p == 'B' && datum.series == 'determ. training'"}],
   "mark": {"type": "errorbar", "ticks": {"size": 7}, "thickness": 1.8, "color": "#2e4ba6"},
   "encoding": {
    "x": {"field": "s", "type": "quantitative", "title": "σᵢₙₛ (nA)", "scale": {"domain": [0, 23.6], "nice": false}, "axis": {"values": [0, 5, 10, 15, 20], "format": "d", "labelPadding": 3, "titlePadding": 17}},
    "y": {"field": "rate", "type": "quantitative", "title": "Correct Rate"},
    "yError": {"field": "err"}}},
  {"data": {"name": "test"}, "transform": [{"filter": "datum.p == 'B' && datum.series == 'determ. training'"}],
   "mark": {"type": "line", "color": "#2e4ba6", "strokeWidth": 1.8, "interpolate": "monotone"},
   "encoding": {"x": {"field": "s", "type": "quantitative", "title": "σᵢₙₛ (nA)"}, "y": {"field": "rate", "type": "quantitative", "title": "Correct Rate"}}},
  {"data": {"name": "test"}, "transform": [{"filter": "datum.p == 'B' && datum.series == 'determ. training'"}],
   "mark": {"type": "point", "shape": "circle", "filled": false, "color": "#2e4ba6", "size": 80, "strokeWidth": 1.6, "opacity": 1},
   "encoding": {"x": {"field": "s", "type": "quantitative", "title": "σᵢₙₛ (nA)"}, "y": {"field": "rate", "type": "quantitative", "title": "Correct Rate"}}},
  {"data": {"name": "test"}, "transform": [{"filter": "datum.p == 'B' && datum.series == 'noisy training'"}],
   "mark": {"type": "errorbar", "ticks": {"size": 7}, "thickness": 1.8, "color": "#e8212b"},
   "encoding": {
    "x": {"field": "s", "type": "quantitative", "title": "σᵢₙₛ (nA)"},
    "y": {"field": "rate", "type": "quantitative", "title": "Correct Rate"},
    "yError": {"field": "err"}}},
  {"data": {"name": "test"}, "transform": [{"filter": "datum.p == 'B' && datum.series == 'noisy training'"}],
   "mark": {"type": "line", "color": "#e8212b", "strokeWidth": 1.8, "interpolate": "monotone"},
   "encoding": {"x": {"field": "s", "type": "quantitative", "title": "σᵢₙₛ (nA)"}, "y": {"field": "rate", "type": "quantitative", "title": "Correct Rate"}}},
  {"data": {"name": "test"}, "transform": [{"filter": "datum.p == 'B' && datum.series == 'noisy training'"}],
   "mark": {"type": "point", "shape": "triangle-up", "filled": false, "color": "#e8212b", "size": 100, "strokeWidth": 1.6, "opacity": 1},
   "encoding": {"x": {"field": "s", "type": "quantitative", "title": "σᵢₙₛ (nA)"}, "y": {"field": "rate", "type": "quantitative", "title": "Correct Rate"}}},
  {"data": {"name": "test"}, "transform": [{"filter": "datum.p == 'none'"}],
   "mark": {"type": "point", "filled": false, "strokeWidth": 1.6, "opacity": 1},
   "encoding": {
    "x": {"field": "s", "type": "quantitative", "title": "σᵢₙₛ (nA)"},
    "y": {"field": "rate", "type": "quantitative", "title": "Correct Rate"},
    "color": {"field": "series", "type": "nominal", "scale": {"domain": ["determ. training", "noisy training"], "range": ["#2e4ba6", "#e8212b"]},
      "legend": {"title": null, "orient": "none", "legendX": 154, "legendY": 140, "strokeColor": "#000", "fillColor": "white", "padding": 6, "rowPadding": 7, "symbolSize": 100, "symbolStrokeWidth": 1.8, "labelFont": "DejaVu Sans", "labelFontSize": 13.5, "labelColor": "#1a1a1a", "labelOffset": 34}},
    "shape": {"field": "series", "type": "nominal", "scale": {"domain": ["determ. training", "noisy training"], "range": ["M-1.2,0H6M3.12,0A0.72,0.72,0,1,1,1.68,0A0.72,0.72,0,1,1,3.12,0", "M-1.2,0H6M2.4,-0.95L3.47,0.65L1.33,0.65Z"]},
      "legend": {"title": null, "orient": "none", "legendX": 154, "legendY": 140, "strokeColor": "#000", "fillColor": "white", "padding": 6, "rowPadding": 7, "symbolSize": 100, "symbolStrokeWidth": 1.8, "labelFont": "DejaVu Sans", "labelFontSize": 13.5, "labelColor": "#1a1a1a", "labelOffset": 34}}}}
 ]
}
]
}
